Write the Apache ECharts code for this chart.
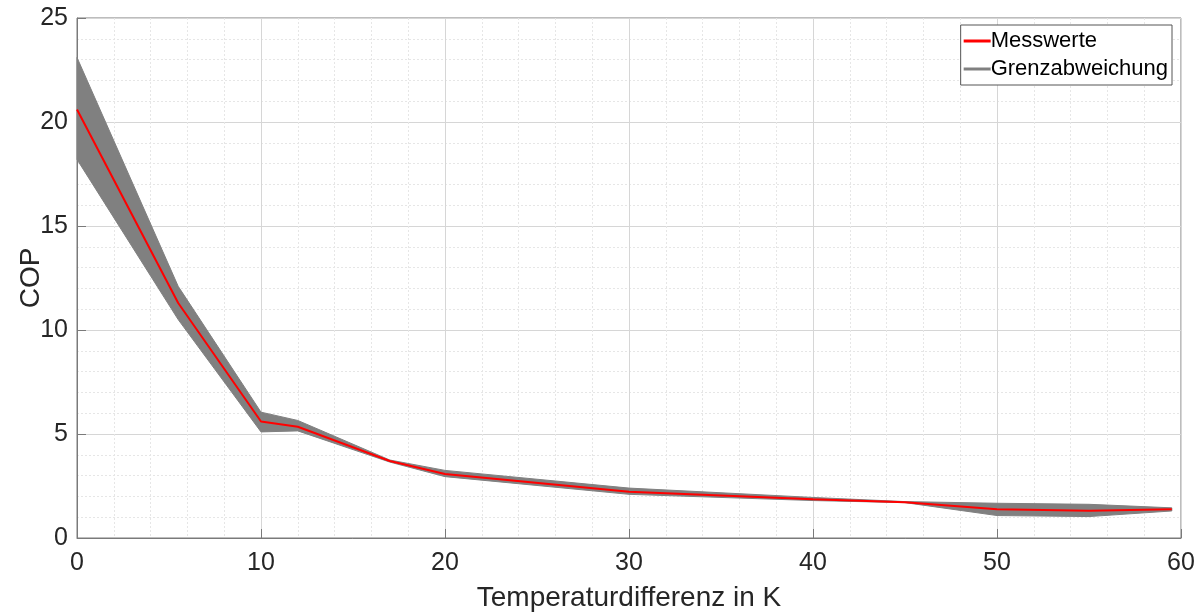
<!DOCTYPE html>
<html><head><meta charset="utf-8">
<script src="https://cdn.jsdelivr.net/npm/echarts@6/dist/echarts.min.js"></script>
<style>html,body{margin:0;padding:0;background:#fff}#c{width:1199px;height:612px}</style>
</head><body><div id="c"></div>
<script>
const xValues = [0, 5.5, 10, 12, 17, 20, 30, 40, 45, 50, 55, 59.5];
const measured = [20.6, 11.3, 5.6, 5.35, 3.7, 3.08, 2.22, 1.86, 1.72, 1.38, 1.31, 1.38];
const upperBound = [23.1, 12.1, 6.05, 5.65, 3.75, 3.25, 2.4, 1.95, 1.75, 1.67, 1.62, 1.45];
const lowerBound = [18.2, 10.5, 5.1, 5.15, 3.65, 2.95, 2.1, 1.8, 1.7, 1.08, 1.03, 1.3];
const xTicks = [0, 10, 20, 30, 40, 50, 60];
const yTicks = [0, 5, 10, 15, 20, 25];

const font = 'Liberation Sans, Arial, sans-serif';
const txt = '#262626';
const axisCol = '#7a7a7a';
const bandData = xValues.map((x, i) => [x, lowerBound[i], upperBound[i]]);
const lineData = xValues.map((x, i) => [x, measured[i]]);

function renderBand(params, api) {
  if (params.dataIndex !== 0) return null;
  const pts = [];
  for (let i = 0; i < bandData.length; i++) pts.push(api.coord([bandData[i][0], bandData[i][2]]));
  for (let i = bandData.length - 1; i >= 0; i--) pts.push(api.coord([bandData[i][0], bandData[i][1]]));
  return {
    type: 'polygon',
    shape: {points: pts},
    style: {fill: '#808080', stroke: '#808080', lineWidth: 1}
  };
}

const chart = echarts.init(document.getElementById('c'), null, {renderer: 'canvas'});
chart.setOption({
  animation: false,
  backgroundColor: '#fff',
  grid: {left: 77, right: 18, top: 18, bottom: 74, containLabel: false, outerBoundsMode: 'none',
         show: true, borderColor: axisCol, borderWidth: 1, backgroundColor: 'transparent'},
  legend: {
    right: 27, top: 25, orient: 'vertical',
    backgroundColor: '#fff', borderColor: '#555', borderWidth: 1,
    padding: [5, 4, 5, 3], itemGap: 6, itemWidth: 27, itemHeight: 3,
    textStyle: {fontFamily: font, fontSize: 22, color: '#000', padding: [0, 0, 0, -5]},
    data: [
      {name: 'Messwerte', icon: 'rect', itemStyle: {color: '#ff0000'}},
      {name: 'Grenzabweichung', icon: 'rect', itemStyle: {color: '#808080'}}
    ]
  },
  xAxis: {
    type: 'value', min: xTicks[0], max: xTicks[xTicks.length - 1], interval: 10,
    name: 'Temperaturdifferenz in K', nameLocation: 'middle', nameGap: 46, nameMoveOverlap: false,
    nameTextStyle: {fontFamily: font, fontSize: 28, color: txt},
    axisLine: {show: true, lineStyle: {color: axisCol, width: 1}},
    axisTick: {show: true, inside: true, length: 9, lineStyle: {color: axisCol}},
    axisLabel: {fontFamily: font, fontSize: 25, color: txt, margin: 13},
    splitLine: {show: true, lineStyle: {color: '#d6d6d6', width: 1}},
    minorTick: {show: false, splitNumber: 5},
    minorSplitLine: {show: true, lineStyle: {color: '#e6e6e6', type: [2, 2], width: 1}}
  },
  yAxis: {
    type: 'value', min: yTicks[0], max: yTicks[yTicks.length - 1], interval: 5,
    name: 'COP', nameLocation: 'middle', nameGap: 32, nameRotate: 90, nameMoveOverlap: false,
    nameTextStyle: {fontFamily: font, fontSize: 28, color: txt},
    axisLine: {show: true, lineStyle: {color: axisCol, width: 1}},
    axisTick: {show: true, inside: true, length: 9, lineStyle: {color: axisCol}},
    axisLabel: {fontFamily: font, fontSize: 25, color: txt, margin: 9},
    splitLine: {show: true, lineStyle: {color: '#d6d6d6', width: 1}},
    minorTick: {show: false, splitNumber: 5},
    minorSplitLine: {show: true, lineStyle: {color: '#e6e6e6', type: [2, 2], width: 1}}
  },
  series: [
    {name: 'Grenzabweichung', type: 'custom', data: bandData, renderItem: renderBand,
     encode: {x: 0, y: [1, 2]}, itemStyle: {color: '#808080'}, z: 2, silent: true},
    {name: 'Messwerte', type: 'line', data: lineData, symbol: 'none',
     lineStyle: {width: 2, color: '#ff0000'}, itemStyle: {color: '#ff0000'}, z: 3}
  ]
});
</script></body></html>
